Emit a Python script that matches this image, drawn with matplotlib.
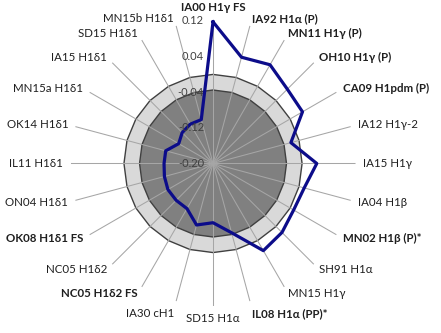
import numpy as np
import matplotlib

matplotlib.use("Agg")
import matplotlib.pyplot as plt

# strains, clockwise from the top
categories = [
    "IA00 H1γ FS", "IA92 H1α (P)", "MN11 H1γ (P)", "OH10 H1γ (P)",
    "CA09 H1pdm (P)", "IA12 H1γ-2", "IA15 H1γ", "IA04 H1β",
    "MN02 H1β (P)*", "SH91 H1α", "MN15 H1γ", "IL08 H1α (PP)*",
    "SD15 H1α", "IA30 cH1", "NC05 H1δ2 FS", "NC05 H1δ2",
    "OK08 H1δ1 FS", "ON04 H1δ1", "IL11 H1δ1", "OK14 H1δ1",
    "MN15a H1δ1", "IA15 H1δ1", "SD15 H1δ1", "MN15b H1δ1",
]
bold_labels = {
    "IA00 H1γ FS", "IA92 H1α (P)", "MN11 H1γ (P)", "OH10 H1γ (P)",
    "CA09 H1pdm (P)", "MN02 H1β (P)*", "IL08 H1α (PP)*",
    "NC05 H1δ2 FS", "OK08 H1δ1 FS",
}
scores = [
    0.118, 0.047, 0.056, 0.036, 0.032, -0.019, 0.033, 0.012,
    0.009, 0.019, 0.026, -0.039, -0.067, -0.057, -0.083, -0.083,
    -0.083, -0.087, -0.090, -0.090, -0.111, -0.102, -0.098, -0.098,
]
inner_band = [-0.035] * len(categories)
outer_band = [0.0] * len(categories)
r_ticks = [-0.20, -0.12, -0.04, 0.04, 0.12]
r_min, r_max = -0.20, 0.12

plt.rcParams["font.family"] = ["Lato", "DejaVu Sans"]

n = len(categories)
theta = np.arange(n) * 2 * np.pi / n


def closed(vals):
    return np.append(vals, vals[0])


fig = plt.figure(figsize=(4.41, 3.33), dpi=100)
ax = fig.add_axes([0.1599, 0.0811, 0.6463, 0.8559], projection="polar")
ax.set_theta_zero_location("N")
ax.set_theta_direction(-1)
ax.set_ylim(r_min, r_max)
ax.grid(False)
ax.spines["polar"].set_visible(False)
ax.set_xticks([])
ax.set_yticks([])

# shaded reference bands
ax.fill(closed(theta), closed(outer_band), facecolor="#d9d9d9",
        edgecolor="#404040", lw=1, zorder=1)
ax.fill(closed(theta), closed(inner_band), facecolor="#808080",
        edgecolor="#404040", lw=1, zorder=2)

# category spokes
for t in theta:
    ax.plot([t, t], [r_min, r_max], color="#a6a6a6", lw=0.75, zorder=3)

ax.plot(closed(theta), closed(scores), color="#0c0c8a", lw=2.3,
        zorder=4, clip_on=False)

# value axis labels, left of the vertical spoke
for v in r_ticks:
    ax.annotate(f"{v:.2f}", xy=(0, v), xytext=(-9, 0),
                textcoords="offset pixels", ha="right", va="center",
                fontsize=8, color="#404040", zorder=5)

# category labels around the outside
for name, t in zip(categories, theta):
    s, c = np.sin(t), np.cos(t)
    ha = "left" if s > 0.01 else "right" if s < -0.01 else "center"
    va = "bottom" if c > 0.99 else "top" if c < -0.9 else "center"
    ax.annotate(name, xy=(t, r_max), xytext=(7.5 * s, 7.5 * c),
                textcoords="offset pixels", ha=ha, va=va, fontsize=8.3,
                color="#1f1f1f",
                fontweight="bold" if name in bold_labels else "normal",
                annotation_clip=False)

fig.savefig("out.png", dpi=100)
